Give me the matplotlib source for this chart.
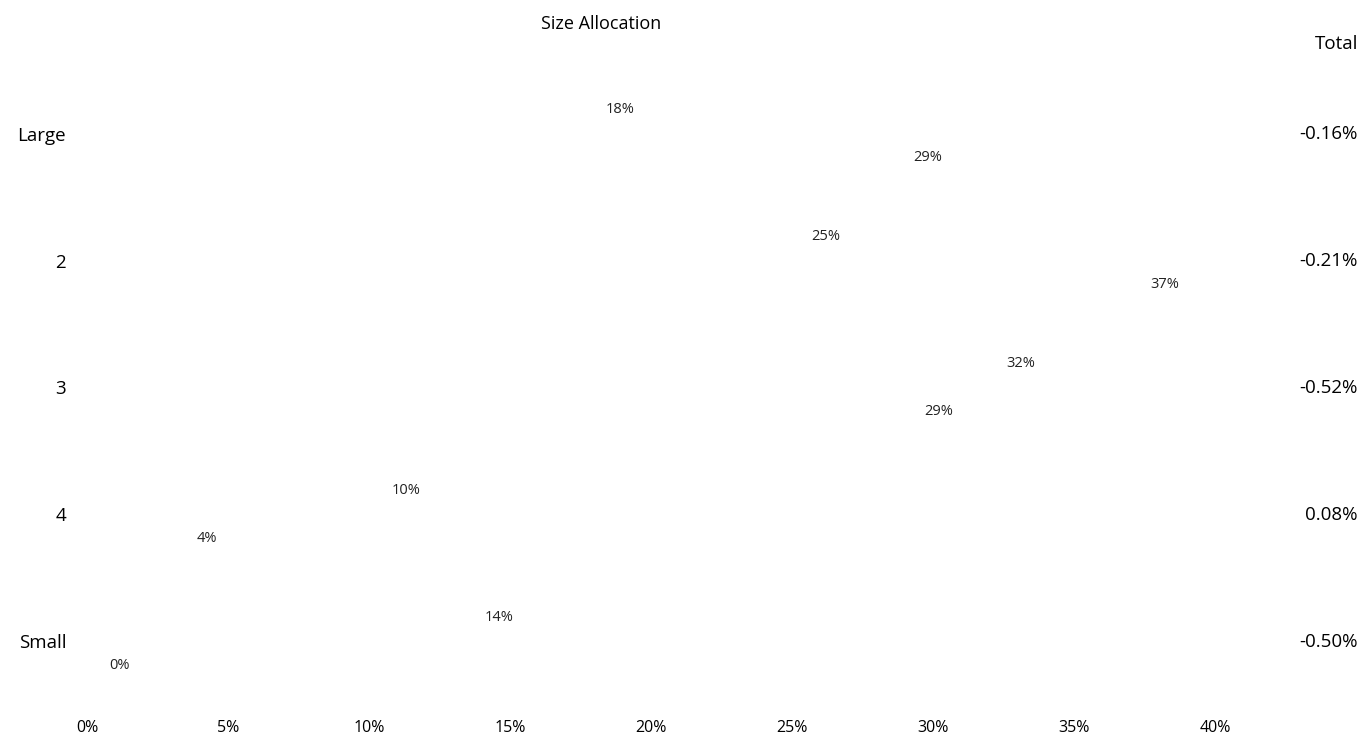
import matplotlib
matplotlib.use("Agg")
import matplotlib.pyplot as plt
import numpy as np

categories = ["Large", "2", "3", "4", "Small"]
series_a = [18.1, 25.4, 32.3, 10.5, 13.8]
series_b = [29.0, 37.4, 29.4, 3.6, 0.5]
totals = ["-0.16%", "-0.21%", "-0.52%", "0.08%", "-0.50%"]
xticks = [0, 5, 10, 15, 20, 25, 30, 35, 40]

W, H = 1362, 734
fig = plt.figure(figsize=(W / 100, H / 100), dpi=100)
left_px, right_px = 87, 87 + 42 * 28.2
top_px, bot_px = 70.5, 704.5
ax = fig.add_axes([left_px / W, 1 - bot_px / H, (right_px - left_px) / W, (bot_px - top_px) / H])

y = np.arange(len(categories))
h = 0.37
off = 0.19
bars_a = ax.barh(y - off, series_a, height=h, color="none", edgecolor="none")
bars_b = ax.barh(y + off, series_b, height=h, color="none", edgecolor="none")

main_fam = ["Open Sans", "DejaVu Sans"]
lab_font = dict(family=main_fam, fontsize=10.5, color="#222222")
for bars, vals in ((bars_a, series_a), (bars_b, series_b)):
    for b, v in zip(bars, vals):
        ax.annotate(f"{v:.0f}%", (b.get_width(), b.get_y() + b.get_height() / 2),
                    xytext=(6, 0), textcoords="offset points",
                    ha="left", va="center", **lab_font)

ax.set_xlim(0, 42)
ax.set_ylim(len(categories) - 0.5, -0.5)
ax.set_xticks(xticks)
ax.set_xticklabels([f"{t}%" for t in xticks], family=main_fam, fontsize=11.5)
ax.set_yticks(y)
ax.set_yticklabels(categories, family=main_fam, fontsize=13.5)
ax.tick_params(axis="both", length=0)
ax.tick_params(axis="x", pad=11)
ax.tick_params(axis="y", pad=15)
for s in ax.spines.values():
    s.set_visible(False)

fig.text(601 / W, 1 - 24 / H, "Size Allocation", ha="center", va="center",
         family=main_fam, fontsize=13)
fig.text(1358 / W, 1 - 44 / H, "Total", ha="right", va="center",
         family=main_fam, fontsize=13.5)
for yi, t in zip(y, totals):
    ypx = top_px + (yi + 0.5) * 127
    fig.text(1358 / W, 1 - ypx / H, t, ha="right", va="center",
             family=main_fam, fontsize=13.5)

fig.savefig("out.png", dpi=100)
